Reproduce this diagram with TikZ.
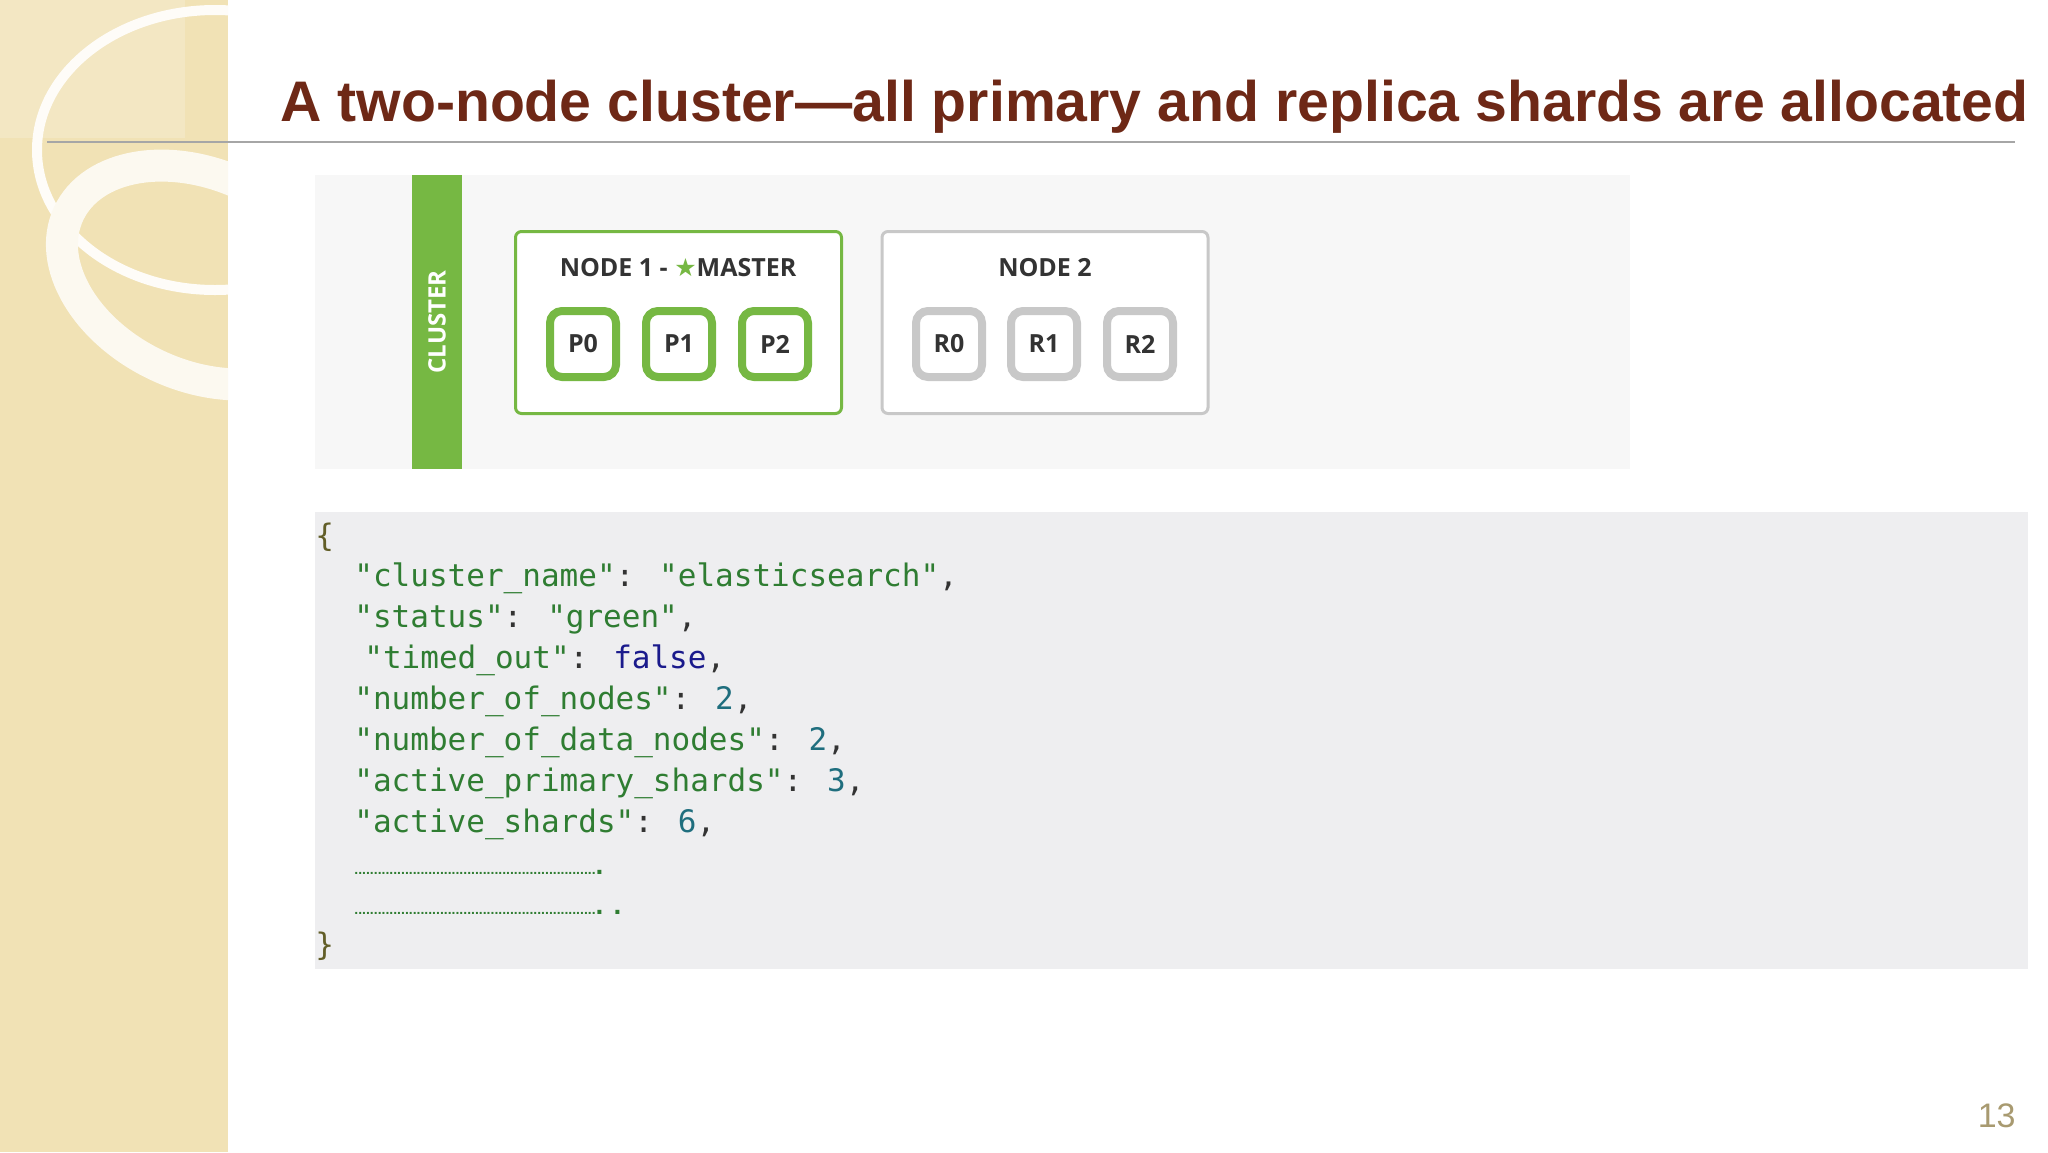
\documentclass[tikz,border=0pt]{standalone}
\usepackage{fontspec}
\setmainfont{Liberation Sans}
\newfontfamily\osans{Open Sans}
\newfontfamily\dmono{DejaVu Sans Mono}
\newfontfamily\djv{DejaVu Sans}
\definecolor{strip}{HTML}{F1E2B5}
\definecolor{titlec}{HTML}{6E2816}
\definecolor{egreen}{HTML}{76B843}
\definecolor{egray}{HTML}{C8C8C8}
\definecolor{txt}{HTML}{333333}
\definecolor{codebg}{HTML}{EEEEF0}
\definecolor{strc}{HTML}{2F7D32}
\definecolor{boolc}{HTML}{1A1A8C}
\definecolor{numc}{HTML}{1F6E7E}
\definecolor{pagec}{HTML}{A89A70}
\tikzset{
  shardg/.style={draw=egreen,line width=4pt,rounded corners=6pt,fill=white,minimum size=33pt,font=\osans\bfseries\fontsize{12.5}{14}\selectfont,text=txt},
  shardr/.style={shardg,draw=egray},
  nodebox/.style={draw=egreen,line width=1.5pt,rounded corners=3pt,fill=white,minimum width=163pt,minimum height=91pt},
  code/.style={anchor=base west,font=\dmono\fontsize{15.5}{18}\selectfont,inner sep=0pt,text=strc},
  dots/.style={anchor=base west,inner sep=0pt,text=strc,font=\fontsize{7}{8}\selectfont}
}
\begin{document}
\begin{tikzpicture}[x=0.5pt,y=-0.5pt]
\useasboundingbox (0,0) rectangle (2048,1152);
\fill[white] (0,0) rectangle (2048,1152);
% left strip
\begin{scope}
\clip (0,0) rectangle (228,1152);
\fill[strip] (0,0) rectangle (228,1152);
\fill[white,opacity=0.2] (0,0) rectangle (185,138);
\draw[white!90!strip,line width=5pt] (215,150) ellipse [x radius=178,y radius=140];
\draw[white!80!strip,line width=16pt,rotate around={-25:(200,275)}] (200,275) ellipse [x radius=145,y radius=100];
\end{scope}
\draw[gray!70,line width=1pt] (47,142) -- (2015,142);
\node[anchor=base west,font=\bfseries\fontsize{28.6}{34}\selectfont,text=titlec,inner sep=0pt] (title) at (280,121) {A two-node cluster---all primary and replica shards are allocated};
% cluster panel
\fill[black!3] (315,175) rectangle (1630,469);
\node[fill=egreen,minimum width=25pt,minimum height=147pt,inner sep=0pt] (bar) at (437,322) {};
\node[rotate=90,text=white,font=\osans\bfseries\fontsize{12}{14}\selectfont] (cl) at (bar) {CLUSTER};
\node[nodebox] (n1) at (678.5,322.5) {};
\node[nodebox,draw=egray] (n2) at (1045,322.5) {};
\node[font=\osans\bfseries\fontsize{12.5}{14}\selectfont,text=txt] (l1) at (678,268) {NODE 1 - {\djv\color{egreen}★}MASTER};
\node[font=\osans\bfseries\fontsize{12.5}{14}\selectfont,text=txt] (l2) at (1045,268) {NODE 2};
\node[shardg] (p0) at (583,344) {P0};
\node[shardg] (p1) at (679,344) {P1};
\node[shardg] (p2) at (775,344) {P2};
\node[shardr] (r0) at (949,344) {R0};
\node[shardr] (r1) at (1044,344) {R1};
\node[shardr] (r2) at (1140,344) {R2};
% code panel
\fill[codebg] (315,512) rectangle (2028,969);
\node[code,text=olive!60!black] (c0) at (315,546) {\{};
\node[code] (c1) at (354,586) {"cluster\_name"{\color{txt}:} "elasticsearch"{\color{txt},}};
\node[code] (c2) at (354,627) {"status"{\color{txt}:} "green"{\color{txt},}};
\node[code] (c3) at (364,668) {"timed\_out"{\color{txt}:} {\color{boolc}false}{\color{txt},}};
\node[code] (c4) at (354,709) {"number\_of\_nodes"{\color{txt}:} {\color{numc}2}{\color{txt},}};
\node[code] (c5) at (354,750) {"number\_of\_data\_nodes"{\color{txt}:} {\color{numc}2}{\color{txt},}};
\node[code] (c6) at (354,791) {"active\_primary\_shards"{\color{txt}:} {\color{numc}3}{\color{txt},}};
\node[code] (c7) at (354,832) {"active\_shards"{\color{txt}:} {\color{numc}6}{\color{txt},}};
\node[dots] (d1) at (354,874) {\bfseries ..............................................................{\fontsize{14}{14}\selectfont.}};
\node[dots] (d2) at (354,914) {\bfseries ..............................................................{\fontsize{14}{14}\selectfont. .}};
\node[code,text=olive!60!black] (c9) at (315,955) {\}};
\node[anchor=base east,inner sep=0pt,text=pagec,font=\fontsize{17}{18}\selectfont] (pg) at (2016,1127) {13};
\end{tikzpicture}
\end{document}
